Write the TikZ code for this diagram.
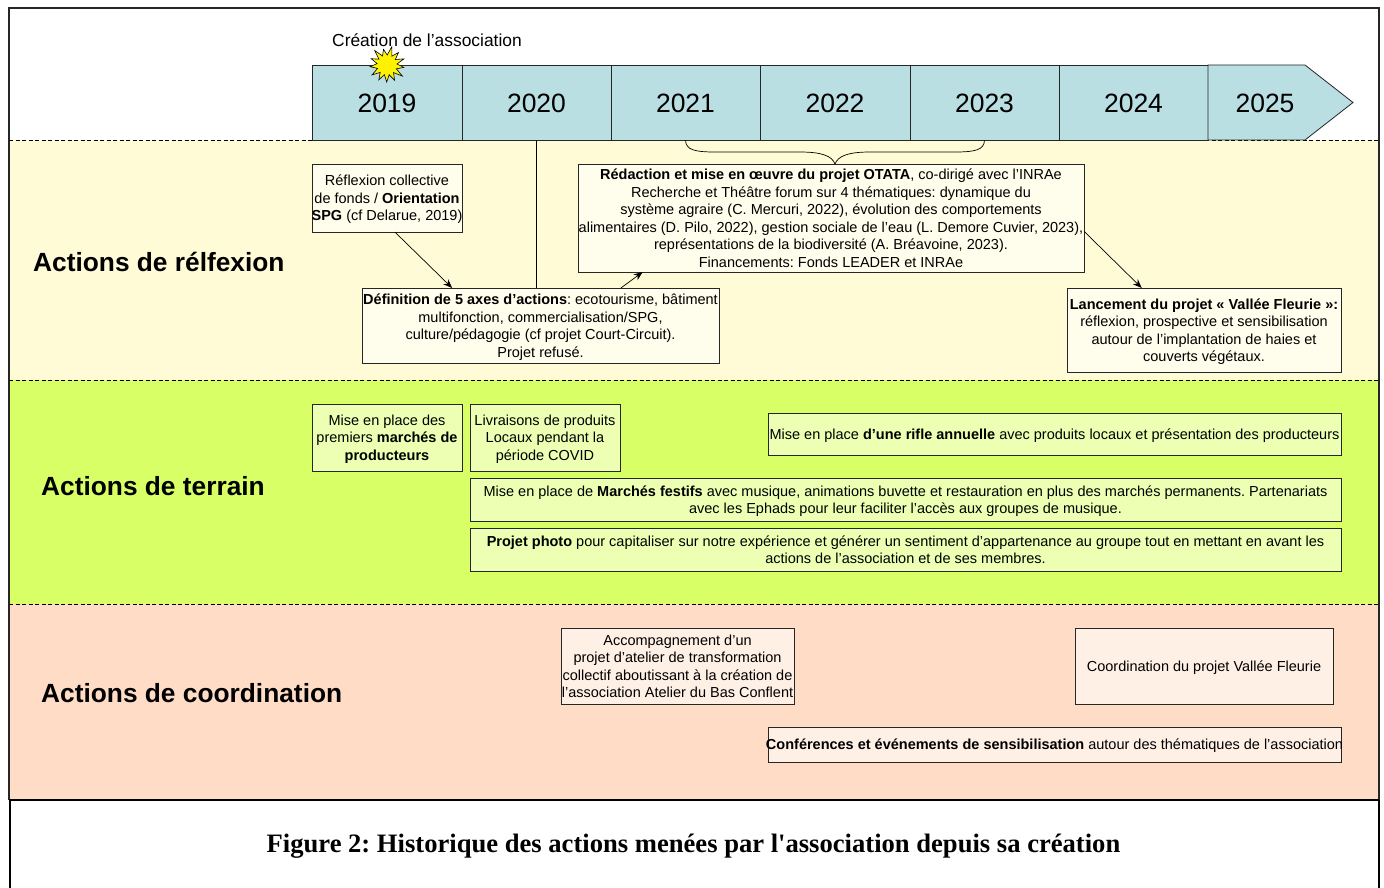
\documentclass[tikz,border=0pt]{standalone}
\usepackage{fontspec}
\setmainfont{Liberation Sans}
\newfontfamily\captionfont{Liberation Serif}
\usetikzlibrary{arrows.meta}

\definecolor{cellblue}{HTML}{B9DFE3}
\definecolor{bandyellow}{HTML}{FFFBD6}
\definecolor{bandgreen}{HTML}{D9FF66}
\definecolor{bandsalmon}{HTML}{FFDCC6}
\definecolor{boxyellow}{HTML}{FFFDEB}
\definecolor{boxgreen}{HTML}{ECFFB3}
\definecolor{boxsalmon}{HTML}{FFF0E6}
\definecolor{edgegrey}{HTML}{262626}

\tikzset{
	yearcell/.style={draw=edgegrey, fill=cellblue, line width=0.8pt, inner sep=0pt, minimum height=75pt, text height=21pt, text depth=0pt, font=\fontsize{26.5}{30}\selectfont},
	yearlabel/.style={inner sep=0pt, text height=21pt, text depth=0pt, font=\fontsize{26.5}{30}\selectfont},
	box/.style={draw=edgegrey, line width=0.8pt, inner sep=0pt, outer sep=0pt, align=center, text depth=-1pt, font=\fontsize{14.5}{17.5}\selectfont},
	heading/.style={inner sep=0pt, anchor=west, font=\fontsize{26.3}{30}\selectfont\bfseries},
	bandline/.style={dashed, dash pattern=on 4pt off 2.5pt, line width=0.7pt},
	link/.style={-{Stealth[length=9pt,width=7pt]}, line width=0.7pt},
}

\begin{document}
\frenchspacing
\begin{tikzpicture}[x=1pt,y=-1pt]
\useasboundingbox (0,0) rectangle (1384,888);

\fill[bandyellow] (9,140) rectangle (1379,380);
\fill[bandgreen] (9,380) rectangle (1379,604);
\fill[bandsalmon] (9,604) rectangle (1379,800);
\draw[bandline] (9,140) -- (1379,140);
\draw[bandline] (9,380) -- (1379,380);
\draw[bandline] (9,604) -- (1379,604);

\draw[edgegrey, line width=1.5pt] (9,800) -- (9,8) -- (1379,8) -- (1379,800);
\draw[black, line width=2pt] (9,800) -- (1379,800);
\draw[black, line width=2pt] (10,800) -- (10,888);
\draw[black, line width=2pt] (1379,800) -- (1379,888);

% timeline
\foreach \y/\xa/\w in {2019/387/150,2020/536.5/149,2021/685.5/149,2022/835/150,2023/984.5/149,2024/1133.5/149}
{	\node[yearcell, minimum width=\w pt] (year\y) at (\xa,102.5) {\y};
}
\draw[edgegrey, fill=cellblue, line width=0.8pt] (1208,65) -- (1305,65) -- (1353,102.5) -- (1305,140) -- (1208,140) -- cycle;
\node[yearlabel] (year2025) at (1265,102.5) {2025};

\node[inner sep=0pt, anchor=west, font=\fontsize{17.4}{20}\selectfont] (creation) at (332,40) {Création de l’association};
\draw[black, fill=yellow, line width=0.6pt] (391.9,46.6) -- (387.2,55) -- (383.5,49.4) -- (382.5,56) -- (374.7,50.5) -- (378.9,59.2) -- (371.2,58.7) -- (377.1,63.6) -- (370.1,66.7) -- (377.6,68.4) -- (372,74.9) -- (380.2,72.4) -- (378.8,79.9) -- (384.4,74.7) -- (386.7,82) -- (389.2,74.8) -- (394.6,80.2) -- (393.5,72.6) -- (402.4,76.1) -- (396.3,68.8) -- (403.8,67.4) -- (397,64) -- (403.9,58.9) -- (395.3,59.5) -- (398.5,52.5) -- (391.8,56.2) -- cycle;

% bands
\node[heading] (reflexion) at (33,262) {Actions de rélfexion};
\node[heading] (terrain) at (41,486) {Actions de terrain};
\node[heading] (coordination) at (41,693) {Actions de coordination};

\node[box, fill=boxyellow, minimum width=150pt, minimum height=68pt] (collective) at (387,198) {Réflexion collective\\de fonds / \textbf{Orientation}\\\makebox[148pt]{\textbf{SPG} (cf Delarue, 2019)}};
\node[box, fill=boxyellow, minimum width=357pt, minimum height=75pt] (axes) at (540.5,325.5) {\textbf{Définition de 5 axes d’actions}: ecotourisme, bâtiment\\multifonction, commercialisation/SPG,\\culture/pédagogie (cf projet Court-Circuit).\\Projet refusé.};
\node[box, fill=boxyellow, minimum width=506pt, minimum height=108pt] (otata) at (831,218) {\textbf{Rédaction et mise en œuvre du projet OTATA}, co-dirigé avec l’INRAe\\Recherche et Théâtre forum sur 4 thématiques: dynamique du\\système agraire (C. Mercuri, 2022), évolution des comportements\\alimentaires (D. Pilo, 2022), gestion sociale de l’eau (L. Demore Cuvier, 2023),\\représentations de la biodiversité (A. Bréavoine, 2023).\\Financements: Fonds LEADER et INRAe};
\node[box, fill=boxyellow, minimum width=274pt, minimum height=84pt] (vallee) at (1204,330) {\textbf{Lancement du projet « Vallée Fleurie »:}\\réflexion, prospective et sensibilisation\\autour de l’implantation de haies et\\couverts végétaux.};

\node[box, fill=boxgreen, minimum width=150pt, minimum height=67pt] (marches) at (387,437.5) {Mise en place des\\premiers \textbf{marchés de}\\\textbf{producteurs}};
\node[box, fill=boxgreen, minimum width=150pt, minimum height=67pt] (covid) at (545,437.5) {Livraisons de produits\\Locaux pendant la\\période COVID};
\node[box, fill=boxgreen, minimum width=573pt, minimum height=42pt] (rifle) at (1054.5,434) {Mise en place \textbf{d’une rifle annuelle} avec produits locaux et présentation des producteurs};
\node[box, fill=boxgreen, minimum width=871pt, minimum height=43pt] (festifs) at (905.5,499.5) {Mise en place de \textbf{Marchés festifs} avec musique, animations buvette et restauration en plus des marchés permanents. Partenariats\\avec les Ephads pour leur faciliter l’accès aux groupes de musique.};
\node[box, fill=boxgreen, minimum width=871pt, minimum height=43pt] (photo) at (905.5,549.5) {\textbf{Projet photo} pour capitaliser sur notre expérience et générer un sentiment d’appartenance au groupe tout en mettant en avant les\\actions de l’association et de ses membres.};

\node[box, fill=boxsalmon, minimum width=233pt, minimum height=76pt] (atelier) at (677.5,666) {Accompagnement d’un\\projet d’atelier de transformation\\collectif aboutissant à la création de\\l’association Atelier du Bas Conflent};
\node[box, fill=boxsalmon, minimum width=258pt, minimum height=76pt] (pilotage) at (1204,666) {Coordination du projet Vallée Fleurie};
\node[box, fill=boxsalmon, minimum width=573pt, minimum height=35pt] (conferences) at (1054.5,744.5) {\makebox[570pt]{\textbf{Conférences et événements de sensibilisation} autour des thématiques de l’association}};

% links
\draw[link] (collective.-77) -- (axes.157);
\draw[line width=0.7pt] (year2020.south) -- (year2020.south |- axes.north);
\draw[link] (axes.25) -- (otata.196);
\draw[link] (otata.-3) -- (vallee.146);
\draw[line width=0.7pt] (year2021.south) .. controls (686,150) and (695,152) .. (715,152) -- (800,152) .. controls (822,152) and (832,156) .. (835,164);
\draw[line width=0.7pt] (year2023.south) .. controls (984,150) and (975,152) .. (955,152) -- (870,152) .. controls (848,152) and (838,156) .. (835,164);

\node[inner sep=0pt, font=\captionfont\fontsize{26.6}{30}\selectfont\bfseries] (legend) at (693.5,846) {Figure 2: Historique des actions menées par l'association depuis sa création};

\end{tikzpicture}
\end{document}
